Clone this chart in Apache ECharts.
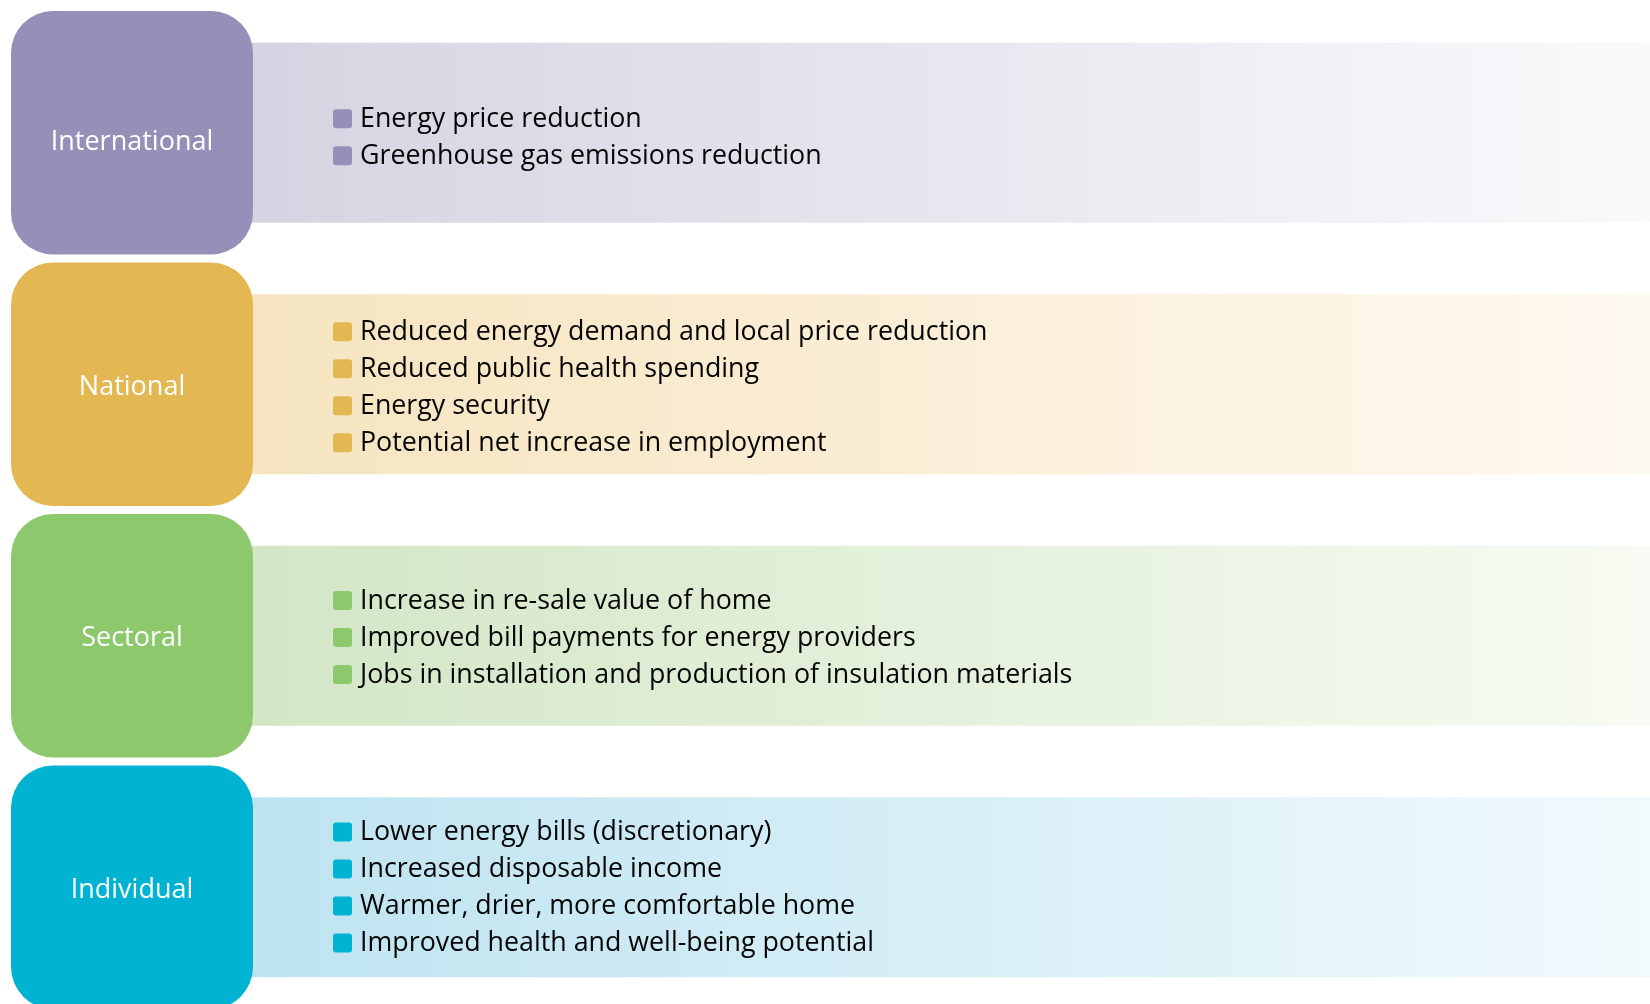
<!DOCTYPE html>
<html>
<head>
<meta charset="utf-8">
<script src="https://cdn.jsdelivr.net/npm/echarts@6/dist/echarts.min.js"></script>
<style>
  html, body { margin: 0; padding: 0; background: #ffffff; }
  #main { width: 1650px; height: 1004px; }
</style>
</head>
<body>
<div id="main"></div>
<script>
// levels of benefit, top to bottom
const levels = ['International', 'National', 'Sectoral', 'Individual'];

const internationalItems = [
  'Energy price reduction',
  'Greenhouse gas emissions reduction'
];
const nationalItems = [
  'Reduced energy demand and local price reduction',
  'Reduced public health spending',
  'Energy security',
  'Potential net increase in employment'
];
const sectoralItems = [
  'Increase in re-sale value of home',
  'Improved bill payments for energy providers',
  'Jobs in installation and production of insulation materials'
];
const individualItems = [
  'Lower energy bills (discretionary)',
  'Increased disposable income',
  'Warmer, drier, more comfortable home',
  'Improved health and well-being potential'
];
const items = [internationalItems, nationalItems, sectoralItems, individualItems];

// colours: box, band start, band end
const boxColors = ['#968fb8', '#e3b852', '#8ec86c', '#00b3d2'];
const bandColors = ['#d4d3e1', '#f6e4bf', '#d2e6c5', '#bde3f0'];
const bandEnds = ['#fafafc', '#fef9f0', '#f7fbf3', '#f1fafd'];

var chartDom = document.getElementById('main');
var myChart = echarts.init(chartDom);

function renderItem(params, api) {
  var idx = api.value(0);
  var cs = params.coordSys;
  var center = api.coord([0, idx]);
  var rowH = api.size([0, 1])[1];
  var cy = center[1];

  var boxX = cs.x + 11;
  var boxW = 242;
  var boxH = rowH - 8;
  var bandH = 180;
  var bandX = boxX + boxW;

  var children = [];

  children.push({
    type: 'rect',
    shape: { x: bandX - 20, y: cy - bandH / 2, width: cs.x + cs.width - bandX + 20, height: bandH },
    style: {
      fill: new echarts.graphic.LinearGradient(0, 0, 1, 0, [
        { offset: 0, color: bandColors[idx] },
        { offset: 1, color: bandEnds[idx] }
      ])
    }
  });

  children.push({
    type: 'rect',
    shape: { x: boxX, y: cy - boxH / 2, width: boxW, height: boxH, r: 42 },
    style: { fill: boxColors[idx] }
  });

  children.push({
    type: 'text',
    x: boxX + boxW / 2,
    y: cy + (idx === 0 ? 10 : 3),
    style: {
      text: levels[idx],
      fill: '#ffffff',
      font: '27px "Open Sans"',
      align: 'center',
      verticalAlign: 'middle'
    }
  });

  var list = items[idx];
  var lineH = 37;
  var shift = 5 - idx * 1.4;
  list.forEach(function (txt, j) {
    var ly = cy + shift + (j - (list.length - 1) / 2) * lineH;
    children.push({
      type: 'rect',
      shape: { x: boxX + 322, y: ly - 10, width: 19, height: 19, r: 3 },
      style: { fill: boxColors[idx] }
    });
    children.push({
      type: 'text',
      x: boxX + 349,
      y: ly,
      style: {
        text: txt,
        fill: '#050505',
        font: '26.8px "Open Sans"',
        align: 'left',
        verticalAlign: 'middle'
      }
    });
  });

  return { type: 'group', children: children };
}

var option = {
  animation: false,
  grid: { left: 0, width: 1650, top: 7, height: 1006, outerBoundsMode: 'none', containLabel: false },
  xAxis: { type: 'value', min: 0, max: 1, show: false },
  yAxis: { type: 'category', data: levels, inverse: true, show: false },
  series: [
    {
      type: 'custom',
      renderItem: renderItem,
      clip: false,
      data: levels.map(function (name, i) { return [i, name]; }),
      encode: { y: 0 }
    }
  ]
};

option && myChart.setOption(option);
</script>
</body>
</html>
